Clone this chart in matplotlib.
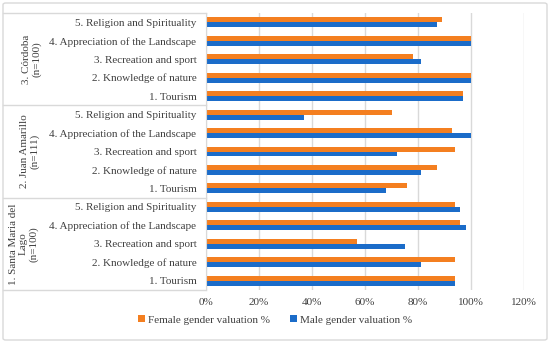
import matplotlib.pyplot as plt
from matplotlib.patches import FancyBboxPatch
from matplotlib.ticker import PercentFormatter
import numpy as np

plt.rcParams['font.family'] = ['Liberation Serif', 'DejaVu Serif']

# bottom to top, as drawn
items = ["1. Tourism", "2. Knowledge of nature", "3. Recreation and sport",
         "4. Appreciation of the Landscape", "5. Religion and Spirituality"]
groups = ["1. Santa Maria del\nLago\n(n=100)", "2. Juan Amarillo\n(n=111)", "3. Córdoba\n(n=100)"]
group_x = [24, 30, 32]  # pixel centre of each group label

female_santa_maria = [94, 94, 57, 96, 94]
male_santa_maria = [94, 81, 75, 98, 96]
female_juan_amarillo = [76, 87, 94, 93, 70]
male_juan_amarillo = [68, 81, 72, 100, 37]
female_cordoba = [97, 100, 78, 100, 89]
male_cordoba = [97, 100, 81, 100, 87]

female = np.array(female_santa_maria + female_juan_amarillo + female_cordoba) / 100
male = np.array(male_santa_maria + male_juan_amarillo + male_cordoba) / 100
labels = items * 3

orange = '#f47f20'
blue = '#1b6cc9'
grid_col = '#d9d9d9'
txt = '#404040'
fs = 8.0

W, H = 550, 343
fig = plt.figure(figsize=(5.5, 3.43), dpi=100)
fig.patches.append(FancyBboxPatch((3 / W, 3 / H), 544 / W, 337 / H,
                                  boxstyle='round,pad=0,rounding_size=0.005',
                                  transform=fig.transFigure, fill=False,
                                  edgecolor=grid_col, linewidth=1))

ax_l, ax_r, ax_t, ax_b = 206, 524, 13, 290
ax = fig.add_axes([ax_l / W, 1 - ax_b / H, (ax_r - ax_l) / W, (ax_b - ax_t) / H])

y = np.arange(len(labels))
h = 0.27
ax.barh(y + h / 2, female, height=h, color=orange, label='Female gender valuation %')
ax.barh(y - h / 2, male, height=h, color=blue, label='Male gender valuation %')

ax.set_xlim(0, 1.2)
ax.set_ylim(-0.5, len(labels) - 0.5)
ax.set_xticks(np.arange(0, 1.21, 0.2))
ax.xaxis.set_major_formatter(PercentFormatter(1.0, decimals=0))
ax.set_yticks(y)
ax.set_yticklabels(labels)
ax.tick_params(axis='y', length=0, pad=7, labelsize=fs, colors=txt)
ax.tick_params(axis='x', length=0, pad=6, labelsize=fs, colors=txt)
ax.grid(axis='x', color=grid_col, linewidth=1)
ax.set_axisbelow(True)
for s in ['top', 'right', 'bottom']:
    ax.spines[s].set_visible(False)
ax.spines['left'].set_color(grid_col)

# label table lines and group names
tr = ax.get_yaxis_transform()
x0 = (3 - ax_l) / (ax_r - ax_l)
for yy in [-0.5, 4.5, 9.5, 14.5]:
    ax.plot([x0, 0], [yy, yy], color=grid_col, lw=1, transform=tr, clip_on=False)
for i, g in enumerate(groups):
    gx = (group_x[i] - ax_l) / (ax_r - ax_l)
    ax.text(gx, i * 5 + 2, g, rotation=90, ha='center', va='center', multialignment='center',
            transform=tr, fontsize=fs, color=txt, linespacing=1.15)

fig.legend(loc='center', bbox_to_anchor=(0.5, 1 - 320 / H), ncol=2, frameon=False,
           fontsize=fs, handlelength=0.6, handleheight=0.6, handletextpad=0.3,
           columnspacing=1.8, labelcolor=txt)

fig.savefig('out.png', dpi=100)
